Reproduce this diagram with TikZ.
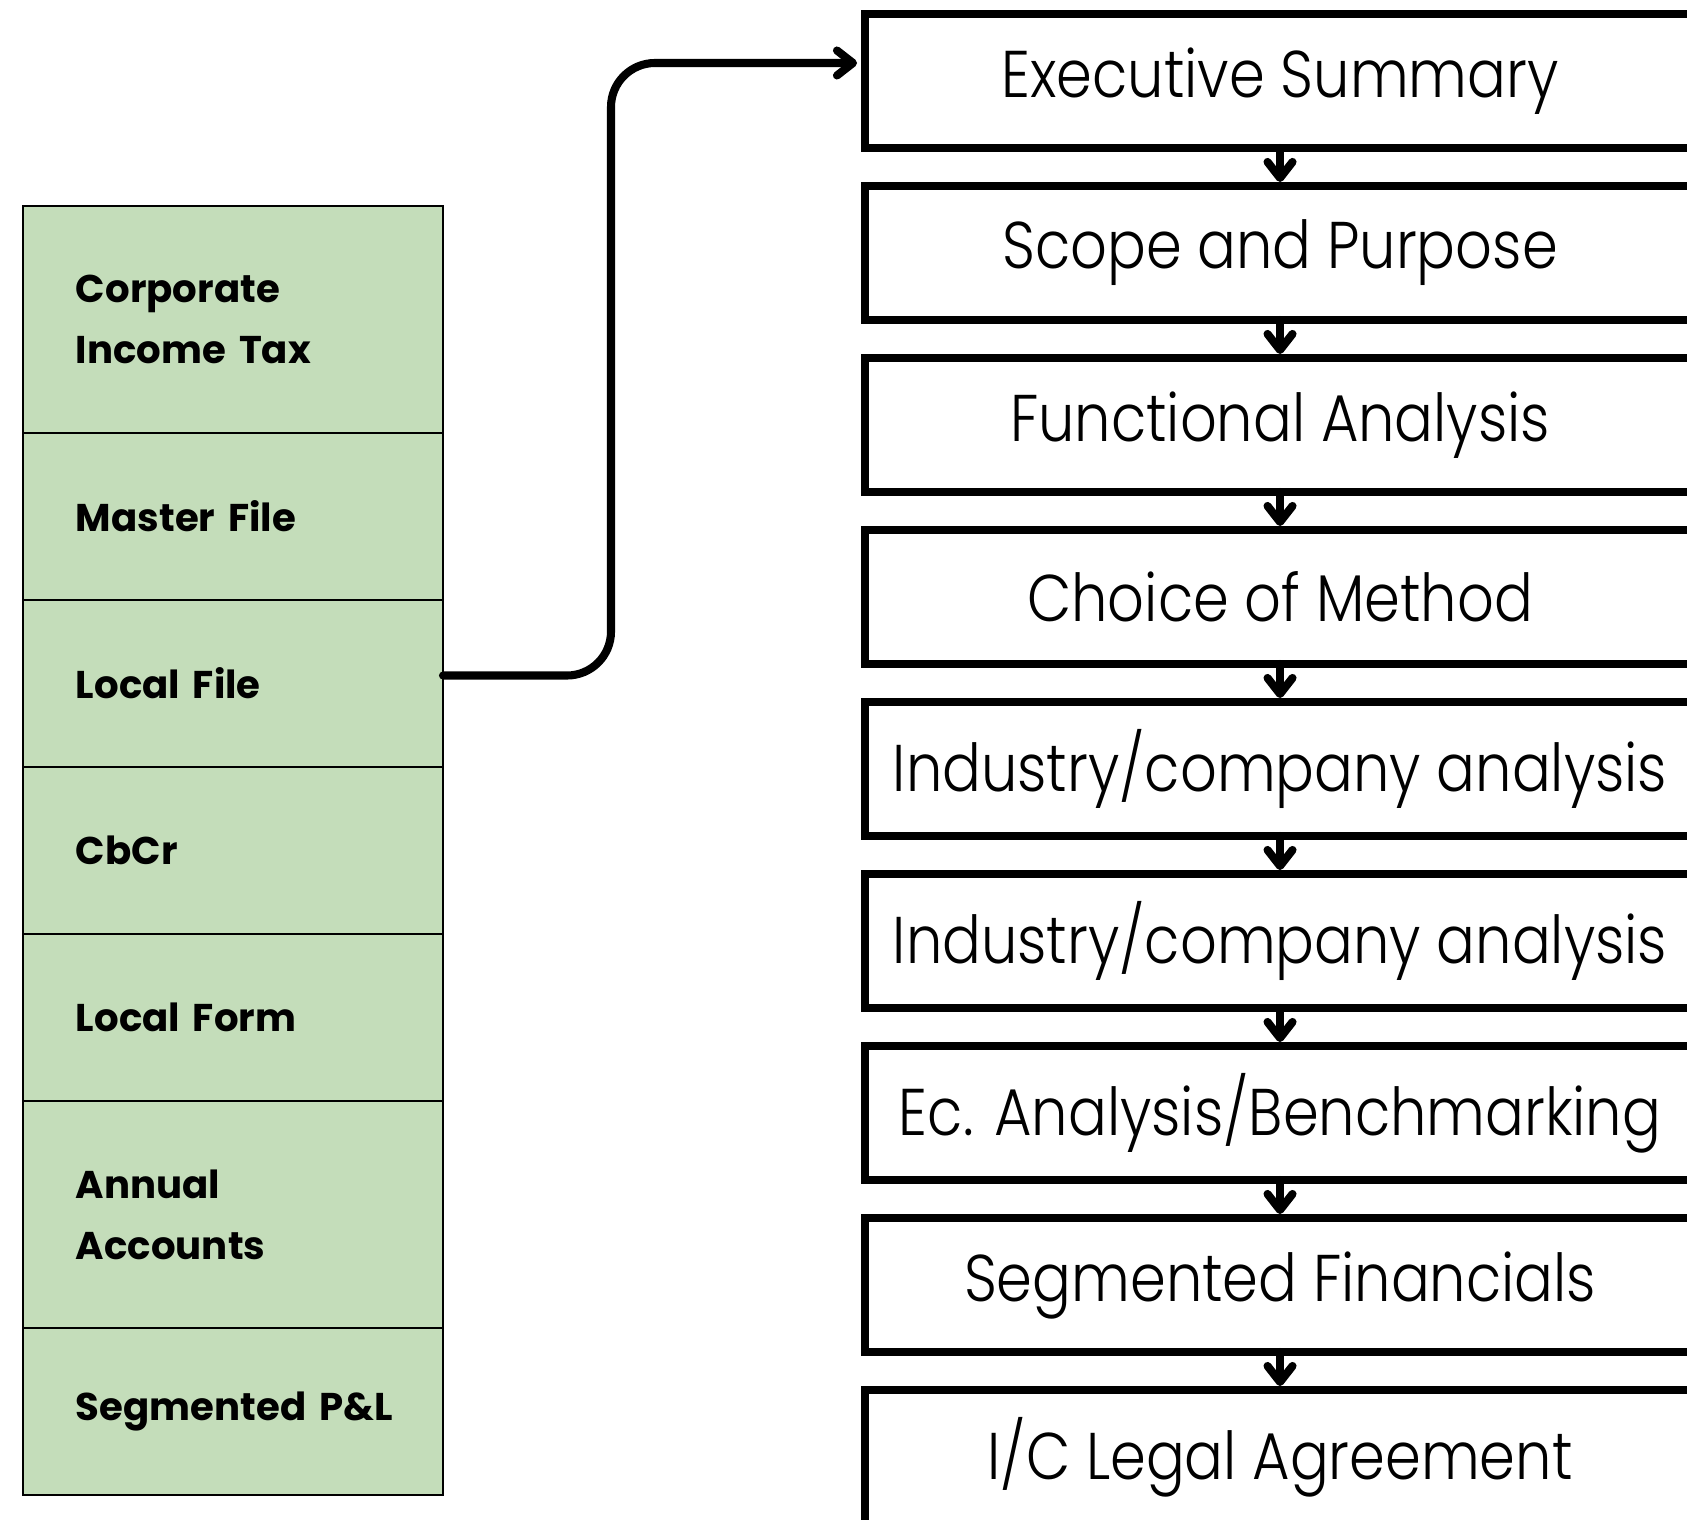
\documentclass[tikz,border=0pt]{standalone}
\usepackage{fontspec}
\setmainfont{Poppins}
\newfontfamily\partfont[FakeStretch=0.87]{Poppins Light}
\usetikzlibrary{positioning, arrows.meta}
\definecolor{tableGreen}{HTML}{C4DDBA}

\begin{document}
\begin{tikzpicture}[
    node distance=0.38cm,
    cell/.style={draw, line width=0.75pt, fill=tableGreen, outer sep=0pt, minimum width=4.2cm, text width=3.14cm, inner xsep=0.53cm, align=left, font=\fontsize{11}{17.4}\selectfont\bfseries},
    tall/.style={cell, minimum height=2.27cm},
    short/.style={cell, minimum height=1.67cm},
    part/.style={draw, line width=2.3pt, outer sep=0pt, minimum width=8.3cm, minimum height=1.34cm, font=\partfont\fontsize{18.8}{22}\selectfont},
    link/.style={line width=2.3pt, line cap=round, shorten >=0.4mm, -{Straight Barb[round, length=1.6mm, width=2.5mm]}},
  ]
  \useasboundingbox (0,0) rectangle (16.87,-15.19);

  % left table
  \node[tall, anchor=north west] (cit) at (0.23,-2.06) {Corporate\\Income Tax};
  \node[short, below=0pt of cit] (mf) {Master File};
  \node[short, below=0pt of mf] (lf) {Local File};
  \node[short, below=0pt of lf] (cbcr) {CbCr};
  \node[short, below=0pt of cbcr] (lform) {Local Form};
  \node[tall, below=0pt of lform] (aa) {Annual\\Accounts};
  \node[short, below=0pt of aa] (spl) {\mbox{Segmented P\&L}};

  % right column
  \node[part] (es) at (12.8,-0.81) {Executive Summary};
  \node[part, below=of es] (sp) {Scope and Purpose};
  \node[part, below=of sp] (fa) {Functional Analysis};
  \node[part, below=of fa] (cm) {Choice of Method};
  \node[part, below=of cm] (ica) {Industry/company analysis};
  \node[part, below=of ica] (icb) {Industry/company analysis};
  \node[part, below=of icb] (eab) {Ec. Analysis/Benchmarking};
  \node[part, below=of eab] (sf) {Segmented Financials};
  \node[part, below=of sf] (lga) {I/C Legal Agreement};

  \foreach \a/\b in {es/sp, sp/fa, fa/cm, cm/ica, ica/icb, icb/eab, eab/sf, sf/lga}
    \draw[link] (\a) -- (\b);

  \draw[link, rounded corners=0.44cm, shorten >=0.8mm] ([yshift=0.8mm]lf.east) -- ++(1.68,0) |- ([yshift=1.8mm]es.west);
\end{tikzpicture}
\end{document}
